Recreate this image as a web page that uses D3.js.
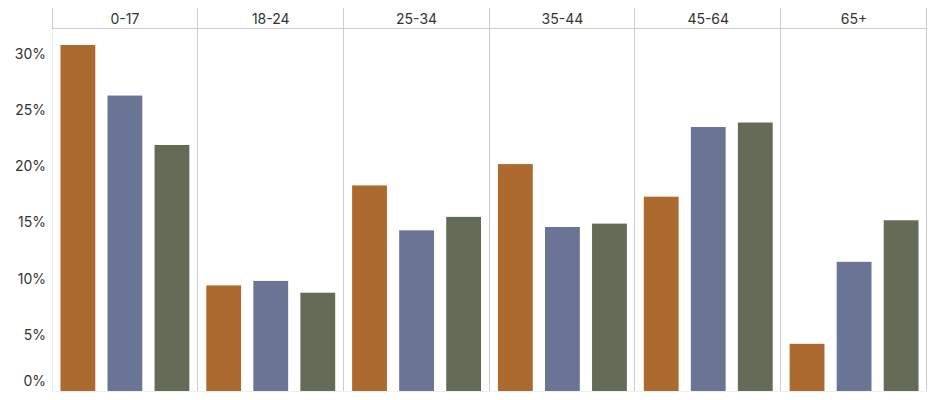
<!DOCTYPE html>
<html><head><meta charset="utf-8">
<script src="https://cdn.jsdelivr.net/npm/d3@7"></script>
<style>body{margin:0;background:#fff}svg{display:block}text{font-family:Inter,"Noto Sans",sans-serif;fill:#333}</style>
</head><body><div id="chart"></div>
<script>
const ageGroups = ["0-17","18-24","25-34","35-44","45-64","65+"];
const seriesNames = ["A","B","C"];
const seriesA = [30.8, 9.4, 18.3, 20.2, 17.3, 4.2];
const seriesB = [26.3, 9.8, 14.3, 14.6, 23.5, 11.5];
const seriesC = [21.9, 8.75, 15.5, 14.9, 23.9, 15.2];
const yTicks = [0,5,10,15,20,25,30];
const colors = ["#ad6a2e","#6a7596","#646c57"];

const W=929,H=400;
const mLeft=52,mRight=927,mTop=8,headerBottom=28,mBottom=391;
const svg=d3.select("#chart").append("svg").attr("width",W).attr("height",H);

const x=d3.scaleBand().domain(ageGroups).range([mLeft,mRight]).padding(0);
const xi=d3.scaleBand().domain(seriesNames).range([0,x.bandwidth()]).paddingInner(0.26).paddingOuter(0.18);
const y=d3.scaleLinear().domain([0,30]).range([mBottom,54]);
const data=[seriesA,seriesB,seriesC];

// faint frame lines
svg.append("line").attr("x1",mLeft+0.5).attr("x2",mLeft+0.5).attr("y1",headerBottom).attr("y2",mBottom).attr("stroke","#eee");
svg.append("line").attr("x1",mLeft).attr("x2",mRight).attr("y1",mBottom+0.5).attr("y2",mBottom+0.5).attr("stroke","#f0f0f0");

// bars
const g=svg.append("g");
ageGroups.forEach((a,i)=>{
  seriesNames.forEach((s,j)=>{
    g.append("rect").attr("x",x(a)+xi(s)).attr("width",xi.bandwidth())
      .attr("y",y(data[j][i])).attr("height",y(0)-y(data[j][i])).attr("fill",colors[j]);
  });
});

// header line and separators
svg.append("line").attr("x1",mLeft).attr("x2",mRight).attr("y1",headerBottom+0.5).attr("y2",headerBottom+0.5).attr("stroke","#ccc");
svg.append("line").attr("x1",mLeft+0.5).attr("x2",mLeft+0.5).attr("y1",mTop).attr("y2",headerBottom).attr("stroke","#ccc");
ageGroups.forEach(a=>{
  const xr=Math.round(x(a)+x.bandwidth())-0.5;
  svg.append("line").attr("x1",xr).attr("x2",xr).attr("y1",mTop).attr("y2",mBottom).attr("stroke","#ccc");
  svg.append("text").attr("x",x(a)+x.bandwidth()/2).attr("y",18).attr("text-anchor","middle")
    .attr("dominant-baseline","central").attr("font-size",14).text(a);
});

// y axis labels
const yAxis=d3.axisLeft(y).tickValues(yTicks).tickFormat(d=>d+"%").tickSize(0).tickPadding(6);
const ya=svg.append("g").attr("transform",`translate(${mLeft},0)`).call(yAxis);
ya.select(".domain").remove();
ya.selectAll("text").attr("font-size",14).attr("fill","#333").style("font-family",'Inter,"Noto Sans",sans-serif');
ya.selectAll("text").filter(d=>d===0).attr("dy","-0.4em");
</script></body></html>
